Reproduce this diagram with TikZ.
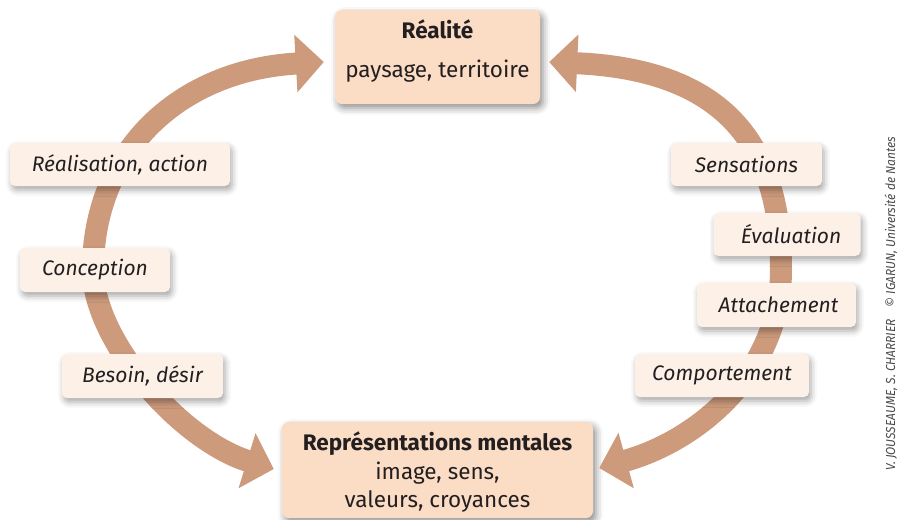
\documentclass[tikz,border=0pt]{standalone}
\usepackage{fontspec}
\setmainfont{Fira Sans}
\newfontfamily\credfont[FakeStretch=0.92]{Fira Sans}
\usetikzlibrary{arrows.meta,shadows.blur,calc}
\definecolor{arrowc}{HTML}{CD9B7C}
\definecolor{mainfill}{HTML}{FBDCC5}
\definecolor{labfill}{HTML}{FDF0E7}
\definecolor{txt}{HTML}{231F20}
\definecolor{credc}{HTML}{4A4A4A}
\begin{document}
\begin{tikzpicture}[x=1pt,y=-1pt,
  mainbox/.style={fill=mainfill, rounded corners=7pt, text=txt, align=center, inner sep=0pt,
    blur shadow={shadow xshift=3pt, shadow yshift=-4pt, shadow blur radius=7pt, shadow opacity=45}},
  labbox/.style={fill=labfill, rounded corners=5pt, text=txt, inner sep=0pt,
    font=\fontsize{21}{24}\selectfont\itshape,
    blur shadow={shadow xshift=2pt, shadow yshift=-4pt, shadow blur radius=6pt, shadow opacity=35}},
  bigarrow/.style={draw=arrowc, line width=22pt,
    {Triangle[length=28pt,width=56pt]}-{Triangle[length=28pt,width=56pt]}}]
\useasboundingbox (0,0) rectangle (898,520);

% main boxes
\node[mainbox, minimum width=205pt, minimum height=94pt, text depth=16pt,
  font=\fontsize{22.5}{27}\selectfont] (real) at (437.5,57)
  {\textbf{Réalité}\\[12pt]paysage, territoire};
\node[mainbox, minimum width=311pt, minimum height=96pt, text depth=-4pt,
  font=\fontsize{22.5}{28.5}\selectfont] (rep) at (437.5,470)
  {\textbf{Représentations mentales}\\image, sens,\\valeurs, croyances};

% arrow end points
\coordinate (tipRealL) at ($(real.west)+(-11,5)$);
\coordinate (tipRealR) at ($(real.east)+(9,5)$);
\coordinate (tipRepL) at ($(rep.west)+(-8,-1)$);
\coordinate (tipRepR) at ($(rep.east)+(6,-2)$);

% arcs
\draw[bigarrow] (tipRepL) .. controls (180,440) and (93,340) .. (93,270)
  .. controls (93,150) and (180,70) .. (tipRealL);
\draw[bigarrow] (tipRepR) .. controls (700,440) and (781,370) .. (781,270)
  .. controls (781,150) and (730,70) .. (tipRealR);

% labels
\node[labbox, minimum width=220pt, minimum height=43pt] (lReal) at (120,164.5) {Réalisation, action};
\node[labbox, minimum width=150pt, minimum height=44pt] (lConc) at (95,270) {Conception};
\node[labbox, minimum width=161pt, minimum height=44pt] (lBes) at (142.5,376) {Besoin, désir};
\node[labbox, minimum width=151pt, minimum height=43pt] (lSens) at (746.5,164.5) {Sensations};
\node[labbox, minimum width=147pt, minimum height=43pt] (lEval) at (787,234.5) {\hspace*{8pt}Évaluation};
\node[labbox, minimum width=159pt, minimum height=44pt] (lAtt) at (776.5,305) {\hspace*{4pt}Attachement};
\node[labbox, minimum width=174pt, minimum height=43pt] (lComp) at (722,375.5) {Comportement};

% credit
\node[rotate=90, text=credc, inner sep=0pt, font=\fontsize{13}{15}\selectfont\credfont\itshape] (credit) at (891,304)
  {V. JOUSSEAUME, S. CHARRIER\hspace{12pt}© IGARUN, Université de Nantes};
\end{tikzpicture}
\end{document}
